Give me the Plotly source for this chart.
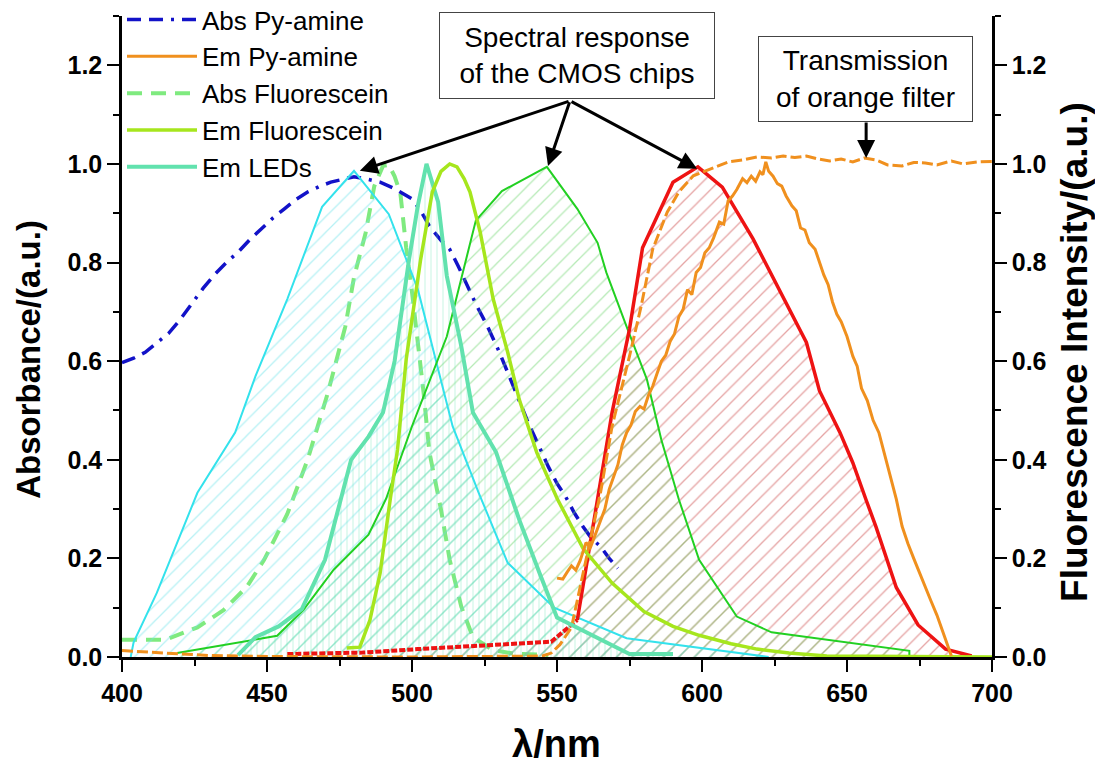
import plotly.graph_objects as go

# ---------------- data (wavelength in nm, normalised intensity) ----------------
abs_py_x = [400, 404, 408, 412, 416, 420, 424, 428, 432, 436, 440, 444, 448, 452, 456, 460,
            464, 468, 472, 476, 480, 484, 489, 494, 500, 503, 506, 510, 513, 516, 519, 522,
            526, 530, 533, 537, 540, 544, 547, 550, 553, 556, 559, 562, 565, 568, 571]
abs_py_y = [0.597, 0.606, 0.618, 0.636, 0.656, 0.684, 0.716, 0.748, 0.776, 0.800, 0.821, 0.846,
            0.868, 0.890, 0.909, 0.928, 0.943, 0.954, 0.963, 0.968, 0.974, 0.970, 0.963, 0.950,
            0.929, 0.905, 0.874, 0.845, 0.827, 0.792, 0.752, 0.716, 0.671, 0.620, 0.577, 0.520,
            0.476, 0.425, 0.386, 0.352, 0.325, 0.292, 0.264, 0.240, 0.224, 0.200, 0.180]

em_py_x = [550, 552, 553.5, 555, 556.5, 558, 560, 561.5, 563, 565, 566.5, 568, 569.5, 571,
           572.5, 574, 575.5, 577, 578.6, 580, 581.5, 583, 584.5, 586, 587.5, 589, 590.5, 592,
           593.5, 595, 596.5, 598, 599.5, 601, 602.5, 604, 606, 607.5, 609, 610.5, 612, 614,
           615.5, 617, 618.5, 620, 621, 622, 623, 624.5, 626, 627.5, 629, 631, 632.5, 634,
           635.5, 637, 639, 640.5, 642, 643.5, 645, 646.5, 648, 650, 652, 653.5, 655, 657,
           659, 661, 663, 665, 667, 669, 671, 673, 675, 677, 679, 681, 683, 684.5, 686]
em_py_y = [0.160, 0.158, 0.172, 0.185, 0.176, 0.196, 0.232, 0.222, 0.245, 0.278, 0.300, 0.340,
           0.366, 0.390, 0.430, 0.455, 0.470, 0.498, 0.508, 0.503, 0.530, 0.549, 0.575, 0.600,
           0.612, 0.640, 0.655, 0.690, 0.705, 0.745, 0.735, 0.780, 0.790, 0.820, 0.830, 0.850,
           0.882, 0.878, 0.925, 0.935, 0.948, 0.970, 0.962, 0.975, 0.965, 0.984, 0.978, 1.004,
           0.985, 0.975, 0.960, 0.955, 0.935, 0.915, 0.905, 0.870, 0.866, 0.840, 0.827, 0.800,
           0.775, 0.755, 0.720, 0.695, 0.680, 0.650, 0.610, 0.590, 0.545, 0.520, 0.480, 0.455,
           0.410, 0.370, 0.320, 0.265, 0.230, 0.200, 0.170, 0.140, 0.113, 0.085, 0.050, 0.025,
           0.002]

filter_x = [400, 410, 420, 430, 450, 500, 545, 548, 551, 555, 560, 565, 569, 575, 579, 583,
            588, 592, 597, 603, 609, 614, 619, 624, 628, 632, 636, 640, 644, 648, 652, 656,
            660, 664, 669, 673, 677, 681, 686, 690, 695, 700]
filter_y = [0.013, 0.010, 0.006, 0.003, 0.001, 0.000, 0.002, 0.008, 0.025, 0.060, 0.197, 0.333,
            0.468, 0.610, 0.711, 0.827, 0.902, 0.943, 0.976, 0.990, 1.004, 1.008, 1.014, 1.012,
            1.016, 1.013, 1.016, 1.010, 1.006, 1.010, 1.004, 1.012, 1.008, 0.998, 0.996, 1.003,
            1.002, 0.998, 1.006, 1.000, 1.004, 1.005]

abs_fl_x = [400, 415, 426, 435, 443, 449, 457, 464, 471, 477, 480, 484, 487, 490, 492, 494,
            496, 498, 500, 502, 504, 506, 510, 513, 517, 521, 528, 535, 547]
abs_fl_y = [0.035, 0.035, 0.060, 0.095, 0.142, 0.197, 0.290, 0.400, 0.536, 0.670, 0.770, 0.860,
            0.955, 0.996, 0.998, 0.975, 0.940, 0.830, 0.740, 0.640, 0.536, 0.415, 0.299, 0.197,
            0.102, 0.040, 0.014, 0.007, 0.004]

em_fl_x = [477.5, 482, 485.5, 489, 492.5, 495, 498, 503, 507, 510, 513, 515.5, 518, 520, 523.5,
           528, 533, 537, 543, 550, 559, 569, 580, 590, 599, 610, 619, 630, 643, 660, 680, 700]
em_fl_y = [0.018, 0.020, 0.075, 0.170, 0.320, 0.420, 0.604, 0.807, 0.943, 0.985, 1.000, 0.994,
           0.970, 0.943, 0.862, 0.726, 0.618, 0.522, 0.415, 0.322, 0.220, 0.150, 0.092, 0.062,
           0.044, 0.027, 0.016, 0.008, 0.002, 0.001, 0.000, 0.000]

led_x = [440, 446, 454, 462, 470, 475, 479, 485, 490, 494, 499, 502, 505, 509, 512, 517,
         521, 529, 537, 544, 550, 575, 590]
led_y = [0.004, 0.040, 0.062, 0.097, 0.197, 0.310, 0.400, 0.447, 0.496, 0.600, 0.807, 0.915,
         1.000, 0.923, 0.773, 0.630, 0.496, 0.415, 0.278, 0.170, 0.080, 0.006, 0.006]

# CMOS chip channel responses
cmos_b_x = [403, 404, 412, 426, 439, 446, 457, 469, 480, 492, 502, 514, 523, 533, 549, 574, 623]
cmos_b_y = [0.000, 0.030, 0.130, 0.333, 0.455, 0.569, 0.726, 0.913, 0.986, 0.898, 0.746, 0.468,
            0.333, 0.191, 0.100, 0.038, 0.000]

cmos_g_x = [419, 453.5, 462.5, 473, 485, 491, 500, 512, 522, 531, 546.5, 557, 564, 567, 574,
            581, 586, 592, 599, 612, 624, 667, 671.5, 671.5]
cmos_g_y = [0.008, 0.043, 0.095, 0.177, 0.248, 0.320, 0.468, 0.650, 0.885, 0.945, 0.994, 0.909,
            0.840, 0.780, 0.670, 0.563, 0.440, 0.320, 0.197, 0.082, 0.050, 0.016, 0.0125, 0.000]

cmos_r_low_x = [457, 483, 502, 522, 548, 557]
cmos_r_low_y = [0.006, 0.009, 0.016, 0.023, 0.031, 0.075]
cmos_r_x = [557, 562.5, 569, 575, 579.5, 590, 598.6, 607, 617.6, 636, 640.5, 647.6, 652, 656.5,
            660, 667, 674.5, 684, 693]
cmos_r_y = [0.075, 0.264, 0.496, 0.665, 0.830, 0.963, 0.994, 0.953, 0.848, 0.638, 0.540, 0.455,
            0.394, 0.320, 0.264, 0.141, 0.065, 0.016, 0.002]

x_ticks = [400, 450, 500, 550, 600, 650, 700]
y_ticks = [0.0, 0.2, 0.4, 0.6, 0.8, 1.0, 1.2]

# ---------------- colours ----------------
C_BLUE = "#1212c8"
C_ORANGE = "#f0901e"
C_ABSFL = "#7fea7f"
C_EMFL = "#a6e61d"
C_LED = "#62e2ae"
C_CYAN = "#33e2ec"
C_GREEN = "#22d022"
C_RED = "#ee1313"

FONT = "Arial, Liberation Sans, sans-serif"

fig = go.Figure()


def hatch(x, y, color, shape, size, axis="y"):
    fig.add_trace(go.Scatter(
        x=x, y=y, mode="lines", line=dict(width=0, color=color), fill="tozeroy",
        fillcolor="rgba(0,0,0,0)",
        fillpattern=dict(shape=shape, fgcolor=color, bgcolor="rgba(0,0,0,0)",
                         size=size, solidity=0.12, fillmode="overlay"),
        showlegend=False, hoverinfo="skip", yaxis=axis))


# hatched areas under the detector responses and LED emission
hatch(cmos_r_low_x + cmos_r_x[1:], cmos_r_low_y + cmos_r_y[1:], "#cc4a4a", "/", 11, "y2")
hatch(cmos_g_x, cmos_g_y, "#6fd66f", "/", 11, "y2")
hatch(cmos_b_x, cmos_b_y, "#6fe4ea", "/", 11, "y2")
hatch(led_x, led_y, "#62e2ae", "|", 6, "y2")


def line(x, y, name, color, width, dash="solid", axis="y", legend=False, rank=None):
    fig.add_trace(go.Scatter(
        x=x, y=y, mode="lines", name=name, line=dict(color=color, width=width, dash=dash),
        showlegend=legend, legendrank=rank if rank else 1000, yaxis=axis, hoverinfo="skip"))


line(cmos_b_x, cmos_b_y, "CMOS blue", C_CYAN, 2, axis="y2")
line(cmos_g_x, cmos_g_y, "CMOS green", C_GREEN, 2, axis="y2")
line(cmos_r_low_x, cmos_r_low_y, "CMOS red low", C_RED, 4, dash="6px,2px", axis="y2")
line(cmos_r_x, cmos_r_y, "CMOS red", C_RED, 3.5, axis="y2")
line(filter_x, filter_y, "Orange filter", C_ORANGE, 3, dash="11px,4px", axis="y2")
line(led_x, led_y, "Em LEDs", C_LED, 4, axis="y2", legend=True, rank=5)
line(abs_fl_x, abs_fl_y, "Abs Fluorescein", C_ABSFL, 4, dash="15px,9px", legend=True, rank=3)
line(em_fl_x, em_fl_y, "Em Fluorescein", C_EMFL, 3.5, axis="y2", legend=True, rank=4)
line(em_py_x, em_py_y, "Em Py-amine", C_ORANGE, 3, axis="y2", legend=True, rank=2)
line(abs_py_x, abs_py_y, "Abs Py-amine", C_BLUE, 3.5, dash="14px,8px,14px,8px,3px,8px",
     legend=True, rank=1)

axis_common = dict(
    showline=True, linewidth=2.5, linecolor="black", mirror=False,
    ticks="outside", ticklen=12, tickwidth=2, tickcolor="black",
    showgrid=False, zeroline=False,
    tickfont=dict(family=FONT, size=25, color="black", weight="bold"),
)

fig.update_layout(
    width=1095, height=765,
    margin=dict(l=122, r=103, t=16, b=108, autoexpand=False),
    paper_bgcolor="white", plot_bgcolor="white",
    xaxis=dict(range=[400, 700], tickvals=x_ticks,
               minor=dict(dtick=25, ticklen=6, tickwidth=2, ticks="outside", tickcolor="black"),
               **axis_common),
    yaxis=dict(range=[0, 1.3], tickvals=y_ticks, tickformat=".1f",
               minor=dict(dtick=0.1, ticklen=6, tickwidth=2, ticks="outside", tickcolor="black"),
               **axis_common),
    yaxis2=dict(range=[0, 1.3], tickvals=y_ticks, tickformat=".1f", overlaying="y", side="right",
                minor=dict(dtick=0.1, ticklen=6, tickwidth=2, ticks="outside", tickcolor="black"),
                **axis_common),
    legend=dict(x=0.0, y=1.031, xanchor="left", yanchor="top", bgcolor="rgba(0,0,0,0)",
                font=dict(family=FONT, size=26, color="black"), itemwidth=70,
                traceorder="normal", tracegroupgap=0),
    showlegend=True,
)

annotations = [
    # axis titles
    dict(text="<b>λ/nm</b>", xref="paper", yref="paper", x=0.499, y=-0.136,
         showarrow=False, font=dict(family=FONT, size=38, color="black"),
         xanchor="center", yanchor="middle"),
    dict(text="<b>Absorbance/(a.u.)</b>", xref="paper", yref="paper", x=-0.107, y=0.465,
         showarrow=False, textangle=-90, font=dict(family=FONT, size=33, color="black"),
         xanchor="center", yanchor="middle"),
    dict(text="<b>Fluorescence Intensity/(a.u.)</b>", xref="paper", yref="paper", x=1.0954,
         y=0.476, showarrow=False, textangle=-90, font=dict(family=FONT, size=37, color="black"),
         xanchor="center", yanchor="middle"),
    # callout boxes
    dict(text="Spectral response<br>of the CMOS chips", xref="paper", yref="paper",
         x=(577 - 122) / 870, y=(657 - 55.5) / 641, showarrow=False,
         font=dict(family=FONT, size=28, color="black"), align="center",
         bordercolor="#444444", borderwidth=1, borderpad=0, bgcolor="white",
         width=274, height=85, xanchor="center", yanchor="middle"),
    dict(text="Transmission<br>of orange filter", xref="paper", yref="paper",
         x=(865.5 - 122) / 870, y=(657 - 79) / 641, showarrow=False,
         font=dict(family=FONT, size=28, color="black"), align="center",
         bordercolor="#444444", borderwidth=1, borderpad=0, bgcolor="white",
         width=213, height=84, xanchor="center", yanchor="middle"),
]

# arrows from the callouts to the curves
arrow_tail = (554.5, 1.128)
for tip in [(482.0, 0.986), (546.9, 0.996), (598.3, 0.990)]:
    annotations.append(dict(
        x=tip[0], y=tip[1], ax=arrow_tail[0], ay=arrow_tail[1], xref="x", yref="y",
        axref="x", ayref="y", text="", showarrow=True, arrowhead=2, arrowsize=1.2,
        arrowwidth=3, arrowcolor="black", standoff=0))
annotations.append(dict(
    x=656.6, y=1.012, ax=656.6, ay=1.087, xref="x", yref="y", axref="x", ayref="y",
    text="", showarrow=True, arrowhead=2, arrowsize=1.2, arrowwidth=3, arrowcolor="black",
    standoff=0))

fig.update_layout(annotations=annotations)

fig.write_html("out.html")
